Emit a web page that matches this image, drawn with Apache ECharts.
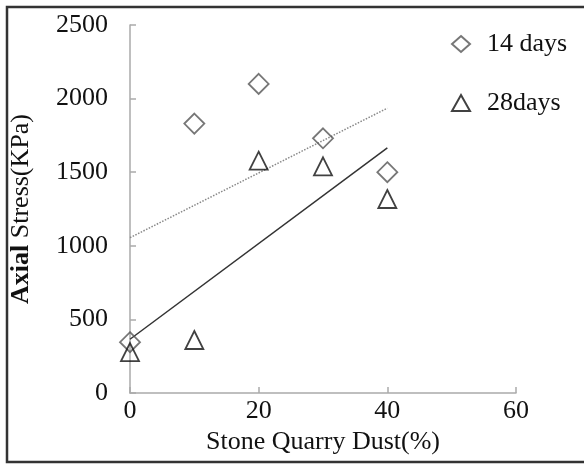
<!DOCTYPE html>
<html>
<head>
<meta charset="utf-8">
<script src="https://cdn.jsdelivr.net/npm/echarts@6/dist/echarts.min.js"></script>
<style>html,body{margin:0;padding:0;background:#fff;}#c{width:584px;height:465px;}</style>
</head>
<body>
<div id="c"></div>
<script>
const dustPct = [0, 10, 20, 30, 40];
const stress14 = [345, 1830, 2100, 1730, 1500];
const stress28 = [278, 360, 1578, 1540, 1318];
const trendX = [0, 40];
const trend14 = [1055, 1935];
const trend28 = [365, 1665];
const xTicks = [0, 20, 40, 60];
const yTicks = [0, 500, 1000, 1500, 2000, 2500];
const seriesNames = ['14 days', '28days'];

const font = 'Liberation Serif';
const fs = 26;
const pair = (xs, ys) => xs.map((x, i) => [x, ys[i]]);

const chart = echarts.init(document.getElementById('c'), null, {renderer: 'canvas'});
chart.setOption({
  animation: false,
  backgroundColor: '#fff',
  grid: {left: 130, top: 25, right: 68, bottom: 72},
  graphic: [{
    type: 'rect', shape: {x: 7, y: 7, width: 600, height: 455},
    style: {fill: 'none', stroke: '#333', lineWidth: 2.5}, z: 100
  }],
  legend: {
    orient: 'vertical', left: 446, top: 26, itemGap: 33,
    itemWidth: 18, itemHeight: 16,
    textStyle: {fontFamily: font, fontSize: fs, color: '#111', padding: [0, 0, 0, 12]},
    data: seriesNames
  },
  xAxis: {
    type: 'value', min: xTicks[0], max: xTicks[xTicks.length - 1], interval: 20,
    name: 'Stone Quarry Dust(%)', nameLocation: 'middle', nameGap: 33,
    nameTextStyle: {fontFamily: font, fontSize: fs, color: '#111'},
    axisLine: {lineStyle: {color: '#aaa', width: 1.5}},
    axisTick: {inside: true, length: 6, lineStyle: {color: '#aaa', width: 1.5}},
    axisLabel: {fontFamily: font, fontSize: fs, color: '#111', margin: 5},
    splitLine: {show: false}
  },
  yAxis: {
    type: 'value', min: yTicks[0], max: yTicks[yTicks.length - 1], interval: 500,
    name: '{b|Axial} {n|Stress(KPa)}', nameLocation: 'middle', nameGap: 96,
    nameTextStyle: {
      fontFamily: font, fontSize: fs, color: '#111',
      rich: {
        b: {fontFamily: font, fontSize: fs, fontWeight: 'bold', color: '#111'},
        n: {fontFamily: font, fontSize: fs, color: '#111'}
      }
    },
    axisLine: {show: true, lineStyle: {color: '#aaa', width: 1.5}},
    axisTick: {show: true, inside: true, length: 6, lineStyle: {color: '#aaa', width: 1.5}},
    axisLabel: {fontFamily: font, fontSize: fs, color: '#111', margin: 22, formatter: v => String(v)},
    splitLine: {show: false}
  },
  series: [
    {
      name: seriesNames[0] + ' trend', type: 'line', data: pair(trendX, trend14),
      symbol: 'none', lineStyle: {color: '#888', width: 1.5, type: 'dotted'}, z: 1
    },
    {
      name: seriesNames[1] + ' trend', type: 'line', data: pair(trendX, trend28),
      symbol: 'none', lineStyle: {color: '#333', width: 1.5}, z: 1
    },
    {
      name: seriesNames[0], type: 'scatter', data: pair(dustPct, stress14),
      symbol: 'diamond', symbolSize: 20,
      itemStyle: {color: 'rgba(255,255,255,0)', borderColor: '#555', borderWidth: 1.8}, z: 3
    },
    {
      name: seriesNames[1], type: 'scatter', data: pair(dustPct, stress28),
      symbol: 'triangle', symbolSize: 18,
      itemStyle: {color: 'rgba(255,255,255,0)', borderColor: '#111', borderWidth: 1.8}, z: 3
    }
  ]
});
</script>
</body>
</html>
